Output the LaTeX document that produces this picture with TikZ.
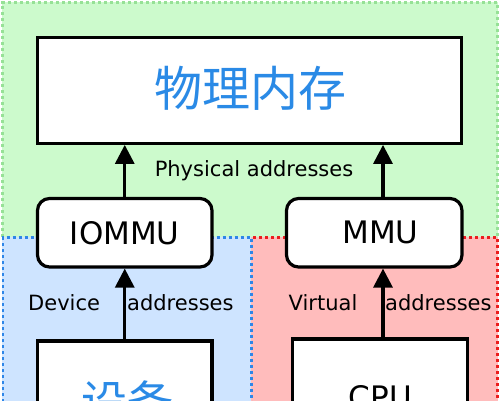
\documentclass[tikz,border=0pt]{standalone}
\usepackage{fontspec}
\setmainfont{DejaVu Sans}
\newfontfamily\cjk{Noto Sans CJK SC}
\usetikzlibrary{arrows.meta}
\definecolor{gfill}{RGB}{204,250,204}
\definecolor{bfill}{RGB}{206,228,255}
\definecolor{rfill}{RGB}{255,188,188}
\definecolor{gdot}{RGB}{150,225,150}
\definecolor{bdot}{RGB}{46,134,232}
\definecolor{rdot}{RGB}{235,30,30}
\definecolor{cjkblue}{RGB}{42,138,230}
\begin{document}
\begin{tikzpicture}[x=1pt,y=-1pt,
  dotline/.style={line width=2.8pt,dash pattern=on 3pt off 3pt},
  box/.style={draw=black,fill=white,line width=3.2pt,inner sep=0pt},
  rbox/.style={box,rounded corners=12pt},
  big/.style={font=\fontsize{31}{36}\selectfont},
  small/.style={font=\fontsize{21}{25}\selectfont,inner sep=0pt},
  cjktext/.style={font=\cjk\fontsize{48}{56}\selectfont,text=cjkblue,inner sep=0pt},
  arr/.style={line width=3.2pt,-{Triangle[length=19pt,width=19pt]}}]
\useasboundingbox (0,0) rectangle (500,400);
% regions
\fill[gfill] (2,2) rectangle (498,237);
\fill[bfill] (2,237) rectangle (251,420);
\fill[rfill] (251,237) rectangle (498,420);
\draw[dotline,gdot] (2.5,237) -- (2.5,2.5) -- (497.5,2.5) -- (497.5,237);
\draw[dotline,rdot] (253,237.5) -- (497.5,237.5) -- (497.5,420);
\draw[dotline,bdot] (3,420) -- (3,237.5) -- (251.5,237.5) -- (251.5,420);
% boxes
\node[box,minimum width=424pt,minimum height=105.8pt] (mem) at (249.5,90.4) {};
\node[cjktext] (memtext) at (250,88.5) {物理内存};
\node[rbox,big,minimum width=174.5pt,minimum height=68.5pt] (iommu) at (124.75,232.75) {IOMMU};
\node[rbox,minimum width=175.5pt,minimum height=68.5pt] (mmu) at (374.25,232.75) {};
\node[big,inner sep=0pt,anchor=base] (mmutext) at (380.5,243.5) {MMU};
\node[box,minimum width=174.5pt,minimum height=129pt] (dev) at (124.75,405.5) {};
\node[cjktext,font=\cjk\fontsize{46}{52}\selectfont] (devtext) at (127.5,402) {设备};
\node[box,minimum width=175pt,minimum height=131pt] (cpu) at (380,404.5) {};
\node[big,inner sep=0pt,anchor=base] (cputext) at (380.5,408) {CPU};
% arrows
\coordinate (rb) at ([xshift=3pt]cpu.north);
\draw[arr] (iommu.north) -- (iommu.north |- mem.south);
\draw[arr] (rb |- mmu.north) -- (rb |- mem.south);
\draw[arr] (dev.north) -- (dev.north |- iommu.south);
\draw[arr] (rb) -- (rb |- mmu.south);
% labels
\node[small,anchor=base] (phys) at (254,176) {Physical addresses};
\node[small,anchor=base west] (devl) at (28,310) {Device};
\node[small,anchor=base west] (deva) at (127,310) {addresses};
\node[small,anchor=base west] (virl) at (288.5,310.5) {Virtual};
\node[small,anchor=base west] (vira) at (385,310.5) {addresses};
\end{tikzpicture}
\end{document}
